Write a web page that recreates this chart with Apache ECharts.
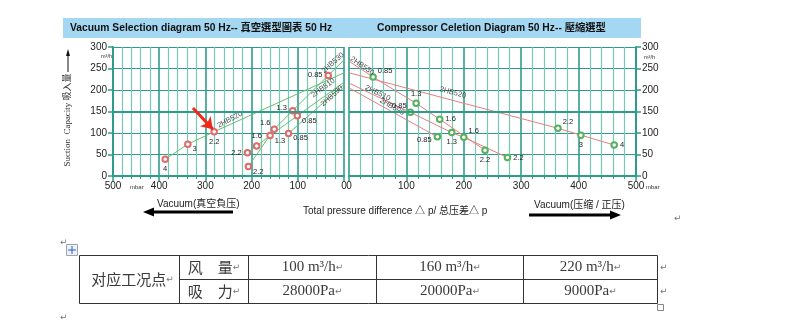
<!DOCTYPE html>
<html><head><meta charset="utf-8">
<script src="https://cdn.jsdelivr.net/npm/echarts@6/dist/echarts.min.js"></script>
<style>html,body{margin:0;padding:0;background:#fff}#c{width:804px;height:327px}</style>
</head><body><div id="c"></div>
<script>
// ---------------- data ----------------
const pressureTicks = [0, 100, 200, 300, 400, 500];   // mbar
const flowTicks = [0, 50, 100, 150, 200, 250, 300];   // m3/h

// Vacuum side (left diagram): mbar, m3/h, motor kW
const v530_mbar = [0, 34, 111, 151, 207];
const v530_flow = [270, 234, 152, 109, 22];
const v530_kw   = ['', '0.85', '1.3', '1.6', '2.2'];
const v520_mbar = [0, 281, 338, 387];
const v520_flow = [240, 103, 74, 39];
const v520_kw   = ['', '2.2', '3', '4'];
const v510_mbar = [0, 101, 160, 189, 209];
const v510_flow = [218, 140, 94, 70, 54];
const v510_kw   = ['', '0.85', '1.3', '1.6', '2.2'];
const v590_mbar = [0, 120];
const v590_flow = [213, 99];
const v590_kw   = ['', '0.85'];

// Compressor side (right diagram)
const c530_mbar = [0, 42, 117, 158, 237];
const c530_flow = [267, 230, 169, 132, 60];
const c530_kw   = ['', '0.85', '1.3', '1.6', '2.2'];
const c520_mbar = [0, 364, 404, 462];
const c520_flow = [240, 111, 95, 72];
const c520_kw   = ['', '2.2', '3', '4'];
const c510_mbar = [0, 107, 179, 200, 276];
const c510_flow = [216, 148, 101, 90, 43];
const c510_kw   = ['', '0.85', '1.3', '1.6', '2.2'];
const c590_mbar = [0, 154];
const c590_flow = [205, 91];
const c590_kw   = ['', '0.85'];

const modelNames = ['2HB530', '2HB520', '2HB510', '2HB590'];
// where the model names sit (data coords) and their tilt
const vacNameAt = [[24, 263], [247, 131], [45, 205], [26, 186]];
const vacNameRot = [42, 28, 36, 42];
const cmpNameAt = [[23, 256], [181, 194], [50, 193], [75, 161]];
const cmpNameRot = [-34, -15, -26, -30];

// highlighted working point arrow (left diagram)
const arrowCoords = [[327, 158], [284, 109]];

// table
const tblHead = '对应工况点';
const tblRowNames = ['风\u3000量', '吸\u3000力'];
const tblFlow = ['100 m³/h', '160 m³/h', '220 m³/h'];
const tblPressure = ['28000Pa', '20000Pa', '9000Pa'];

// label placement styles per point
const v530_pos = ['', 'L', 'UL0', 'UL', 'BR'];
const v520_pos = ['', 'B', 'BR', 'B'];
const v510_pos = ['', 'BR', 'BR', 'T', 'L'];
const v590_pos = ['', 'BR'];
const c530_pos = ['', 'UR', 'T', 'R', 'B'];
const c520_pos = ['', 'UR', 'B', 'R'];
const c510_pos = ['', 'UL', 'B', 'UR', 'R'];
const c590_pos = ['', 'BL'];

// ---------------- styles ----------------
const LP = {
  L: {position: 'left'}, R: {position: 'right'}, T: {position: 'top'}, B: {position: 'bottom'},
  UL: {position: 'left', offset: [2, -6]}, UL0: {position: 'left', offset: [0, -3]},
  UR: {position: 'right', offset: [-1, -6]},
  BR: {position: 'right', offset: [-1, 5]}, BL: {position: 'left', offset: [0, 3]}
};
const TEAL = '#2f9b8b', TEAL_L = '#78c8ba';
const GREEN_LINE = '#62c070', RED_LINE = '#e67f7f';
const RED_SYM = '#e06a6a', GREEN_SYM = '#55b060';

function mkLine(name, mbar, flow, kw, pos, gi, lineColor, symColor) {
  return {
    type: 'line', name: name, xAxisIndex: gi, yAxisIndex: gi,
    data: mbar.map((m, i) => ({
      value: [m, flow[i]],
      symbol: kw[i] ? 'emptyCircle' : 'none',
      label: kw[i] ? Object.assign({show: true, formatter: kw[i]}, LP[pos[i]]) : {show: false}
    })),
    symbolSize: 5.5, showAllSymbol: true,
    lineStyle: {color: lineColor, width: 1},
    itemStyle: {color: symColor, borderWidth: 1},
    label: {fontSize: 7.5, color: '#222', fontFamily: 'Liberation Sans', distance: 2},
    emphasis: {disabled: true}, z: 3
  };
}
function mkNames(gi, at, rot) {
  return {
    type: 'scatter', xAxisIndex: gi, yAxisIndex: gi, symbolSize: 0,
    data: modelNames.map((n, i) => ({
      value: at[i], label: {show: true, formatter: n, rotate: rot[i], position: 'inside'}
    })),
    label: {fontSize: 7.5, color: '#222', fontFamily: 'Liberation Sans'},
    emphasis: {disabled: true}, z: 4,
    markLine: {silent: true, symbol: 'none', label: {show: false}, animation: false,
      lineStyle: {color: TEAL, width: 2, type: 'solid'}, data: [{yAxis: 150}]}
  };
}
function mkX(gi, inverse) {
  return {
    gridIndex: gi, type: 'value', min: pressureTicks[0], max: pressureTicks[pressureTicks.length - 1],
    interval: pressureTicks[1] - pressureTicks[0], inverse: inverse,
    axisLine: {onZero: false, lineStyle: {color: TEAL, width: 2}},
    axisTick: {show: true, length: 5, lineStyle: {color: TEAL, width: 1.5}},
    axisLabel: {margin: 5, fontSize: 10, color: '#222', fontFamily: 'Liberation Sans'},
    splitLine: {show: true, lineStyle: {color: TEAL, width: 1.6}},
    minorTick: {show: true, splitNumber: 5, length: 3, lineStyle: {color: TEAL}},
    minorSplitLine: {show: true, lineStyle: {color: TEAL_L, width: 1.2}}
  };
}
function mkY(gi, pos) {
  return {
    gridIndex: gi, type: 'value', min: flowTicks[0], max: flowTicks[flowTicks.length - 1],
    interval: flowTicks[1] - flowTicks[0], position: pos,
    axisLine: {show: true, onZero: false, lineStyle: {color: TEAL, width: 2}},
    axisTick: {show: true, length: 5, lineStyle: {color: TEAL, width: 1.5}},
    axisLabel: {margin: 6, fontSize: 10, color: '#222', fontFamily: 'Liberation Sans'},
    splitLine: {show: true, lineStyle: {color: TEAL, width: 1}}
  };
}

// ---------------- table graphic ----------------
const TX = [79.5, 179.5, 248.5, 376.5, 523.5, 657.5];
const TY = [255.5, 279.5, 303.5];
const tblLine = {stroke: '#333', lineWidth: 1};
const graphics = [];
graphics.push({type: 'rect', shape: {x: 63, y: 18, width: 578, height: 20}, style: {fill: '#a4d8f2'}, z: 0});
graphics.push({type: 'text', x: 70, y: 28, z: 10, style: {text: 'Vacuum Selection diagram 50 Hz-- 真空選型圖表 50 Hz',
  fontSize: 10.3, fontWeight: 'bold', fontFamily: '"Liberation Sans","Noto Sans CJK TC"', fill: '#111', verticalAlign: 'middle'}});
graphics.push({type: 'text', x: 377, y: 28, z: 10, style: {text: 'Compressor Celetion Diagram 50 Hz-- 壓縮選型',
  fontSize: 10.3, fontWeight: 'bold', fontFamily: '"Liberation Sans","Noto Sans CJK TC"', fill: '#111', verticalAlign: 'middle'}});
// y-axis title
graphics.push({type: 'text', x: 68, y: 120, rotation: Math.PI / 2, z: 10, style: {text: 'Suction  Capacity 吸入量',
  fontSize: 9, fontFamily: '"Liberation Serif","Noto Sans CJK SC"', fill: '#333', align: 'center', verticalAlign: 'middle'}});
graphics.push({type: 'line', shape: {x1: 68, y1: 72, x2: 68, y2: 55}, style: {stroke: '#111', lineWidth: 1}, z: 10});
graphics.push({type: 'polygon', shape: {points: [[68, 49], [66, 56], [70, 56]]}, style: {fill: '#111'}, z: 10});
// small unit texts
graphics.push({type: 'text', x: 112, y: 56, z: 10, style: {text: 'm³/h', fontSize: 5.5, fill: '#333', align: 'right', verticalAlign: 'middle', fontFamily: 'Liberation Sans'}});
graphics.push({type: 'text', x: 644, y: 57, z: 10, style: {text: 'm³/h', fontSize: 5.5, fill: '#333', align: 'left', verticalAlign: 'middle', fontFamily: 'Liberation Sans'}});
graphics.push({type: 'text', x: 130, y: 187, z: 10, style: {text: 'mbar', fontSize: 6, fill: '#333', verticalAlign: 'middle', fontFamily: 'Liberation Sans'}});
graphics.push({type: 'text', x: 646, y: 187, z: 10, style: {text: 'mbar', fontSize: 6, fill: '#333', verticalAlign: 'middle', fontFamily: 'Liberation Sans'}});
// bottom captions + arrows
graphics.push({type: 'text', x: 157, y: 204, z: 10, style: {text: 'Vacuum(真空負压)', fontSize: 10, fill: '#222', verticalAlign: 'middle', fontFamily: '"Liberation Sans","Noto Sans CJK SC"'}});
graphics.push({type: 'text', x: 303, y: 211, z: 10, style: {text: 'Total pressure difference △ p/ 总压差△ p', fontSize: 10, fill: '#222', verticalAlign: 'middle', fontFamily: '"Liberation Sans","Noto Sans CJK SC"'}});
graphics.push({type: 'text', x: 534, y: 205, z: 10, style: {text: 'Vacuum(压缩 / 正压)', fontSize: 10, fill: '#222', verticalAlign: 'middle', fontFamily: '"Liberation Sans","Noto Sans CJK SC"'}});
graphics.push({type: 'polygon', shape: {points: [[143, 212], [154, 207.5], [154, 210.5], [233, 210.5], [233, 213.5], [154, 213.5], [154, 216.5]]}, style: {fill: '#000'}, z: 10});
graphics.push({type: 'polygon', shape: {points: [[621, 215], [610, 210.5], [610, 213.5], [529, 213.5], [529, 216.5], [610, 216.5], [610, 219.5]]}, style: {fill: '#000'}, z: 10});
// paragraph marks
const markStyle = {fontSize: 9, fill: '#777', verticalAlign: 'middle', fontFamily: '"DejaVu Sans"'};
[[674, 219], [60, 243], [660, 268], [660, 292], [60, 318]].forEach(p => {
  graphics.push({type: 'text', x: p[0], y: p[1], z: 10, style: Object.assign({text: '↵'}, markStyle)});
});
// table move handle + resize handle
graphics.push({type: 'rect', shape: {x: 66.5, y: 244.5, width: 11, height: 11}, style: {fill: '#eef2f8', stroke: '#9aa4b0', lineWidth: 1}, z: 10});
graphics.push({type: 'line', shape: {x1: 68, y1: 250, x2: 76, y2: 250}, style: {stroke: '#2a5bd0', lineWidth: 1}, z: 11});
graphics.push({type: 'line', shape: {x1: 72, y1: 246, x2: 72, y2: 254}, style: {stroke: '#2a5bd0', lineWidth: 1}, z: 11});
graphics.push({type: 'rect', shape: {x: 657.5, y: 304.5, width: 6, height: 6}, style: {fill: '#fff', stroke: '#888', lineWidth: 1}, z: 10});
// table grid
graphics.push({type: 'rect', shape: {x: TX[0], y: TY[0], width: TX[5] - TX[0], height: TY[2] - TY[0]}, style: {fill: 'none', stroke: '#333', lineWidth: 1}, z: 10});
for (let i = 1; i <= 4; i++) graphics.push({type: 'line', shape: {x1: TX[i], y1: TY[0], x2: TX[i], y2: TY[2]}, style: tblLine, z: 10});
graphics.push({type: 'line', shape: {x1: TX[1], y1: TY[1], x2: TX[5], y2: TY[1]}, style: tblLine, z: 10});
function cellText(txt, cx, cy, cjk) {
  return {type: 'text', x: cx, y: cy, z: 11, style: {
    text: '{t|' + txt + '}{r|↵}', align: 'center', verticalAlign: 'middle',
    rich: {
      t: {fontSize: 15, fill: '#3a3a3a', fontFamily: cjk ? '"Noto Sans CJK SC"' : '"Liberation Serif"'},
      r: {fontSize: 9, fill: '#777', fontFamily: '"DejaVu Sans"'}
    }}};
}
graphics.push(cellText(tblHead, (TX[0] + TX[1]) / 2 + 3, (TY[0] + TY[2]) / 2, true));
tblRowNames.forEach((n, r) => graphics.push(cellText(n, (TX[1] + TX[2]) / 2, (TY[r] + TY[r + 1]) / 2, true)));
tblFlow.forEach((t, c) => graphics.push(cellText(t, (TX[c + 2] + TX[c + 3]) / 2, (TY[0] + TY[1]) / 2, false)));
tblPressure.forEach((t, c) => graphics.push(cellText(t, (TX[c + 2] + TX[c + 3]) / 2, (TY[1] + TY[2]) / 2, false)));

// ---------------- chart ----------------
const chart = echarts.init(document.getElementById('c'), null, {renderer: 'canvas'});
chart.setOption({
  animation: false,
  backgroundColor: '#fff',
  grid: [
    {left: 113, top: 47, width: 231, height: 129},
    {left: 349, top: 47, width: 287, height: 129}
  ],
  xAxis: [mkX(0, true), mkX(1, false)],
  yAxis: [mkY(0, 'left'), mkY(1, 'right')],
  series: [
    mkLine('2HB530', v530_mbar, v530_flow, v530_kw, v530_pos, 0, GREEN_LINE, RED_SYM),
    mkLine('2HB520', v520_mbar, v520_flow, v520_kw, v520_pos, 0, GREEN_LINE, RED_SYM),
    mkLine('2HB510', v510_mbar, v510_flow, v510_kw, v510_pos, 0, GREEN_LINE, RED_SYM),
    mkLine('2HB590', v590_mbar, v590_flow, v590_kw, v590_pos, 0, GREEN_LINE, RED_SYM),
    mkLine('2HB530', c530_mbar, c530_flow, c530_kw, c530_pos, 1, RED_LINE, GREEN_SYM),
    mkLine('2HB520', c520_mbar, c520_flow, c520_kw, c520_pos, 1, RED_LINE, GREEN_SYM),
    mkLine('2HB510', c510_mbar, c510_flow, c510_kw, c510_pos, 1, RED_LINE, GREEN_SYM),
    mkLine('2HB590', c590_mbar, c590_flow, c590_kw, c590_pos, 1, RED_LINE, GREEN_SYM),
    mkNames(0, vacNameAt, vacNameRot),
    mkNames(1, cmpNameAt, cmpNameRot),
    {type: 'lines', coordinateSystem: 'cartesian2d', xAxisIndex: 0, yAxisIndex: 0,
      symbol: ['none', 'arrow'], symbolSize: [0, 11], z: 6,
      lineStyle: {color: '#ee2a1b', width: 3, opacity: 1, curveness: 0},
      data: [{coords: arrowCoords}]}
  ],
  graphic: graphics
});
</script>
</body></html>
